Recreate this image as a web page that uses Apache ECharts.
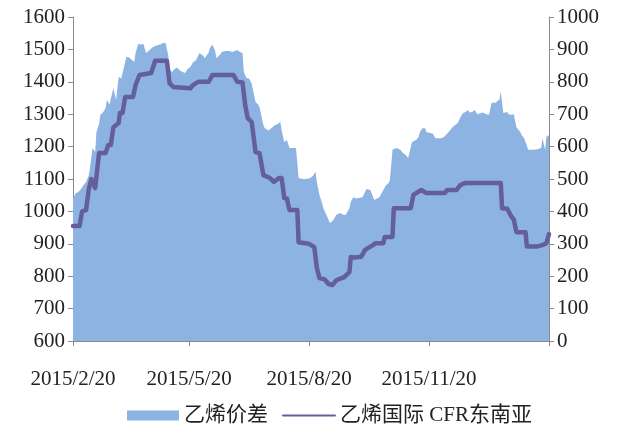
<!DOCTYPE html>
<html>
<head>
<meta charset="utf-8">
<title>乙烯价差</title>
<script src="https://cdn.jsdelivr.net/npm/echarts@6/dist/echarts.min.js"></script>
<style>
  html, body { margin: 0; padding: 0; background: #fff; }
  #chart { width: 619px; height: 425px; }
</style>
</head>
<body>
<div id="chart"></div>
<script>
// 乙烯价差 (右轴)
const spreadDates = [
  '2015-02-20','2015-02-22','2015-02-24','2015-02-26','2015-02-28','2015-03-02','2015-03-04','2015-03-05',
  '2015-03-07','2015-03-09','2015-03-10','2015-03-12','2015-03-13','2015-03-15','2015-03-17','2015-03-18',
  '2015-03-20','2015-03-21','2015-03-23','2015-03-25','2015-03-27','2015-03-29','2015-03-30','2015-04-02',
  '2015-04-04','2015-04-05','2015-04-08','2015-04-09','2015-04-11','2015-04-13','2015-04-15','2015-04-17',
  '2015-04-19','2015-04-20','2015-04-22','2015-04-25','2015-04-26','2015-04-28','2015-04-30','2015-05-02',
  '2015-05-04','2015-05-05','2015-05-07','2015-05-09','2015-05-11','2015-05-13','2015-05-15','2015-05-17',
  '2015-05-19','2015-05-21','2015-05-23','2015-05-25','2015-05-26','2015-05-28','2015-05-31','2015-06-01',
  '2015-06-04','2015-06-05','2015-06-07','2015-06-09','2015-06-10','2015-06-13','2015-06-14','2015-06-17',
  '2015-06-18','2015-06-20','2015-06-22','2015-06-24','2015-06-26','2015-06-28','2015-06-30','2015-07-01',
  '2015-07-03','2015-07-05','2015-07-07','2015-07-10','2015-07-12','2015-07-13','2015-07-16','2015-07-17',
  '2015-07-20','2015-07-21','2015-07-23','2015-07-25','2015-07-27','2015-07-29','2015-07-30','2015-08-01',
  '2015-08-03','2015-08-05','2015-08-08','2015-08-10','2015-08-11','2015-08-12','2015-08-15','2015-08-16',
  '2015-08-18','2015-08-21','2015-08-23','2015-08-25','2015-08-26','2015-08-28','2015-08-30','2015-08-31',
  '2015-09-03','2015-09-05','2015-09-07','2015-09-09','2015-09-10','2015-09-13','2015-09-15','2015-09-17',
  '2015-09-18','2015-09-20','2015-09-21','2015-09-23','2015-09-25','2015-09-27','2015-09-30','2015-10-03',
  '2015-10-06','2015-10-07','2015-10-09','2015-10-11','2015-10-13','2015-10-16','2015-10-18','2015-10-20',
  '2015-10-21','2015-10-22','2015-10-23','2015-10-26','2015-10-27','2015-10-29','2015-10-31','2015-11-02',
  '2015-11-04','2015-11-05','2015-11-07','2015-11-08','2015-11-10','2015-11-12','2015-11-13','2015-11-15',
  '2015-11-17','2015-11-18','2015-11-21','2015-11-23','2015-11-25','2015-11-27','2015-11-29','2015-12-01',
  '2015-12-03','2015-12-05','2015-12-06','2015-12-08','2015-12-10','2015-12-12','2015-12-14','2015-12-16',
  '2015-12-18','2015-12-20','2015-12-21','2015-12-23','2015-12-25','2015-12-27','2015-12-28','2015-12-31',
  '2016-01-01','2016-01-03','2016-01-05','2016-01-07','2016-01-10','2016-01-11','2016-01-13','2016-01-14',
  '2016-01-16','2016-01-17','2016-01-19','2016-01-20','2016-01-22','2016-01-24','2016-01-26','2016-01-29',
  '2016-01-30','2016-02-01','2016-02-02','2016-02-04','2016-02-06','2016-02-08','2016-02-11','2016-02-12',
  '2016-02-14','2016-02-15','2016-02-17','2016-02-18','2016-02-20'
];
const spreadValues = [
  441, 455, 460, 468, 481, 491, 510, 534,
  596, 583, 645, 670, 698, 705, 719, 744,
  730, 735, 781, 744, 815, 810, 812, 877,
  875, 877, 861, 890, 917, 915, 917, 889,
  895, 898, 907, 912, 917, 915, 920, 920,
  883, 840, 830, 840, 843, 835, 830, 827,
  840, 846, 860, 865, 873, 889, 880, 873,
  890, 905, 914, 895, 873, 885, 892, 895,
  898, 895, 892, 895, 898, 892, 889, 830,
  812, 810, 795, 738, 730, 722, 667, 657,
  650, 645, 660, 667, 670, 676, 650, 614,
  620, 596, 596, 596, 596, 503, 500, 497,
  500, 503, 510, 522, 490, 451, 425, 410,
  383, 364, 370, 383, 390, 395, 390, 389,
  395, 410, 430, 444, 440, 441, 444, 469,
  466, 460, 435, 440, 444, 466, 481, 488,
  497, 500, 590, 596, 593, 590, 580, 575,
  565, 559, 614, 618, 620, 630, 645, 657,
  657, 645, 642, 640, 626, 626, 626, 628,
  636, 645, 650, 660, 667, 673, 690, 704,
  707, 713, 705, 707, 713, 700, 698, 705,
  704, 700, 698, 735, 735, 735, 745, 769,
  704, 705, 707, 700, 698, 700, 660, 645,
  636, 625, 614, 590, 590, 590, 592, 593,
  596, 626, 590, 630, 636
];

// 乙烯国际 CFR东南亚 (左轴)
const priceDates = [
  '2015-02-20','2015-02-25','2015-02-27','2015-03-02','2015-03-04','2015-03-06','2015-03-07','2015-03-09',
  '2015-03-12','2015-03-17','2015-03-19','2015-03-21','2015-03-23','2015-03-27','2015-03-28','2015-03-30',
  '2015-04-01','2015-04-07','2015-04-09','2015-04-12','2015-04-21','2015-04-24','2015-05-03','2015-05-05',
  '2015-05-08','2015-05-21','2015-05-23','2015-05-27','2015-06-04','2015-06-07','2015-06-23','2015-06-26',
  '2015-06-30','2015-07-02','2015-07-04','2015-07-07','2015-07-10','2015-07-13','2015-07-16','2015-07-21',
  '2015-07-24','2015-07-28','2015-07-30','2015-08-01','2015-08-03','2015-08-05','2015-08-11','2015-08-12',
  '2015-08-20','2015-08-24','2015-08-26','2015-08-28','2015-09-01','2015-09-04','2015-09-07','2015-09-10',
  '2015-09-16','2015-09-20','2015-09-21','2015-09-24','2015-09-29','2015-10-02','2015-10-08','2015-10-10',
  '2015-10-16','2015-10-17','2015-10-23','2015-10-24','2015-11-06','2015-11-08','2015-11-14','2015-11-18',
  '2015-12-02','2015-12-04','2015-12-11','2015-12-14','2015-12-18','2016-01-14','2016-01-15','2016-01-19',
  '2016-01-22','2016-01-24','2016-01-26','2016-02-02','2016-02-03','2016-02-11','2016-02-15','2016-02-18',
  '2016-02-20'
];
const priceValues = [
  955, 955, 1000, 1004, 1066, 1100, 1103, 1072,
  1180, 1180, 1205, 1205, 1260, 1273, 1304, 1304,
  1353, 1353, 1390, 1421, 1427, 1465, 1465, 1396,
  1384, 1380, 1390, 1400, 1400, 1421, 1421, 1400,
  1398, 1329, 1288, 1276, 1183, 1180, 1112, 1103,
  1091, 1103, 1103, 1041, 1040, 1004, 1004, 905,
  900, 890, 825, 794, 790, 776, 773, 788,
  797, 813, 859, 858, 860, 881, 896, 902,
  902, 921, 921, 1010, 1010, 1051, 1066, 1057,
  1057, 1066, 1066, 1081, 1088, 1088, 1010, 1008,
  985, 975, 936, 936, 892, 892, 896, 902,
  930
];

// 横轴刻度
const tickDates = ['2015-02-20', '2015-05-20', '2015-08-20', '2015-11-20', '2016-02-20'];
const labelDates = ['2015-02-20', '2015-05-20', '2015-08-20', '2015-11-20'];

function ts(s) {
  const p = s.split('-').map(Number);
  return new Date(p[0], p[1] - 1, p[2]).getTime();
}

const numFont = "'Liberation Serif', 'Noto Sans CJK SC', serif";
const axisGray = '#8a8a8a';

const chart = echarts.init(document.getElementById('chart'));

const yLabel = {
  margin: 8,
  fontFamily: numFont,
  fontSize: 21,
  color: '#222',
  formatter: function (v) { return String(v); } // 不要千分位
};

const option = {
  animation: false,
  grid: { left: 73, right: 70, top: 17, bottom: 84 },
  legend: {
    top: 400,
    left: 122,
    itemWidth: 52,
    itemHeight: 10,
    itemGap: 14,
    textStyle: { fontFamily: numFont, fontSize: 21, color: '#222' },
    data: [
      { name: '乙烯价差', icon: 'rect' },
      { name: '乙烯国际 CFR东南亚', itemStyle: { opacity: 0 } }
    ]
  },
  xAxis: {
    // 日期用时间戳放在数值轴上, 刻度取每季度的 20 日
    type: 'value',
    min: ts(tickDates[0]),
    max: ts(tickDates[tickDates.length - 1]),
    splitLine: { show: false },
    axisLine: { show: true, lineStyle: { color: axisGray, width: 1 } },
    axisTick: {
      show: true,
      length: 5,
      lineStyle: { color: axisGray },
      customValues: tickDates.map(ts)
    },
    axisLabel: {
      margin: 28,
      fontFamily: numFont,
      fontSize: 21,
      color: '#222',
      customValues: labelDates.map(ts),
      formatter: function (v) {
        const d = new Date(v);
        return d.getFullYear() + '/' + (d.getMonth() + 1) + '/' + d.getDate();
      }
    }
  },
  yAxis: [
    {
      type: 'value',
      min: 600,
      max: 1600,
      interval: 100,
      splitLine: { show: false },
      axisLine: { show: true, lineStyle: { color: axisGray } },
      axisTick: { show: true, length: 5, lineStyle: { color: axisGray } },
      axisLabel: yLabel
    },
    {
      type: 'value',
      min: 0,
      max: 1000,
      interval: 100,
      position: 'right',
      splitLine: { show: false },
      axisLine: { show: true, lineStyle: { color: axisGray } },
      axisTick: { show: true, length: 5, lineStyle: { color: axisGray } },
      axisLabel: yLabel
    }
  ],
  series: [
    {
      name: '乙烯价差',
      type: 'line',
      yAxisIndex: 1,
      symbol: 'none',
      lineStyle: { width: 0 },
      itemStyle: { color: '#8db3e2' },
      areaStyle: { color: '#8db3e2', opacity: 1 },
      data: spreadDates.map((d, i) => [ts(d), spreadValues[i]])
    },
    {
      name: '乙烯国际 CFR东南亚',
      type: 'line',
      yAxisIndex: 0,
      symbol: 'none',
      lineStyle: { width: 4.5, color: '#645f9a', join: 'round', cap: 'round' },
      itemStyle: { color: '#645f9a' },
      data: priceDates.map((d, i) => [ts(d), priceValues[i]])
    }
  ]
};

chart.setOption(option);
window.addEventListener('resize', function () {
  chart.resize();
});
</script>
</body>
</html>
